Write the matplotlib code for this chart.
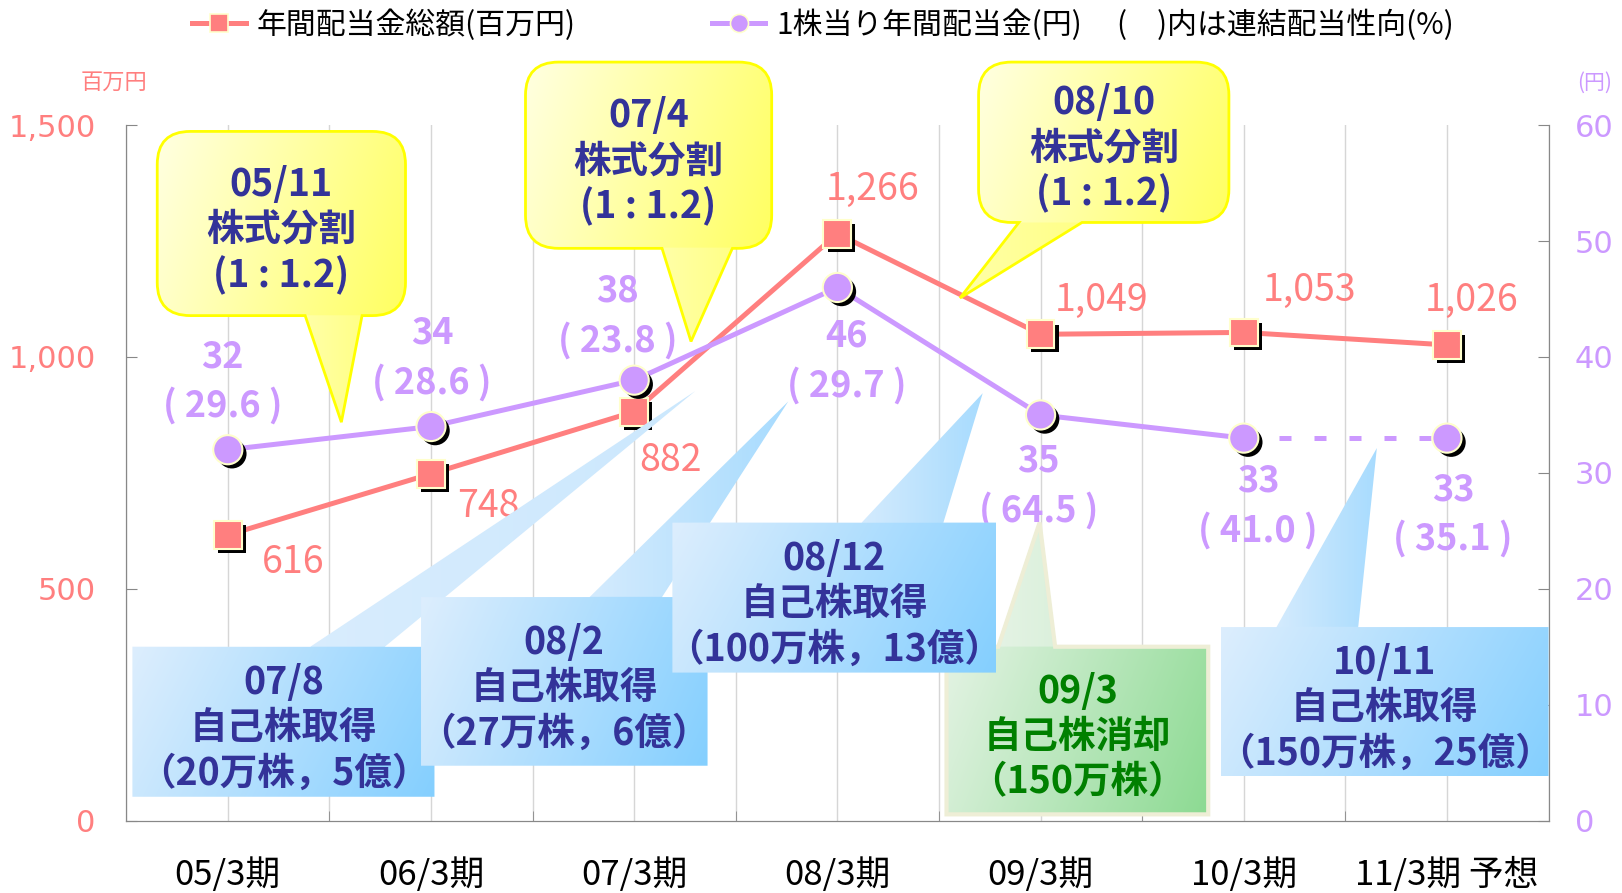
import numpy as np
import matplotlib
matplotlib.use('Agg')
import matplotlib.pyplot as plt
import matplotlib.patheffects as pe
from matplotlib.path import Path
from matplotlib.patches import PathPatch
from matplotlib.lines import Line2D
from matplotlib.ticker import StrMethodFormatter

plt.rcParams['font.family'] = ['Noto Sans CJK JP', 'DejaVu Sans']

# data
periods = ['05/3期', '06/3期', '07/3期', '08/3期', '09/3期', '10/3期', '11/3期 予想']
total_div = [616, 748, 882, 1266, 1049, 1053, 1026]      # 百万円
dps = [32, 34, 38, 46, 35, 33, 33]                        # 円
payout = [29.6, 28.6, 23.8, 29.7, 64.5, 41.0, 35.1]       # %

RED = '#FF7F7F'
PURPLE = '#CC99FF'
NAVY = '#333399'
GREEN = '#008000'
EDGE = '#FFFFCC'

# layout is measured on the 1568x863 reference, S scales it to the real figure
S = 1622 / 1568
red_off = [(63, 27), (55, 32), (35, 47), (34, -43), (59, -33), (64, -41), (24, -43)]
purple_off = [(-5, -66), (1, -66), (-16, -62), (9, 71), (-2, 69), (14, 66), (6, 74)]

# callouts: text, text colour, fill style, box (x0, y0, x1, y1), tail (base x0, base x1, tip x, tip y)
callouts = [
    ('05/11\n株式分割\n(1 : 1.2)', NAVY, 'yellow', (152, 127, 392, 305), (295, 350, 330, 408)),
    ('07/4\n株式分割\n(1 : 1.2)', NAVY, 'yellow', (508, 60, 746, 240), (640, 708, 668, 330)),
    ('08/10\n株式分割\n(1 : 1.2)', NAVY, 'yellow', (946, 60, 1188, 215), (985, 1046, 928, 288)),
    ('09/3\n自己株消却\n（150万株）', GREEN, 'green', (915, 625, 1168, 787), (965, 1020, 1005, 505)),
    ('07/8\n自己株取得\n（20万株，5億）', NAVY, 'blue', (128, 625, 420, 770), (300, 372, 672, 378)),
    ('08/2\n自己株取得\n（27万株，6億）', NAVY, 'blue', (407, 577, 684, 740), (570, 640, 762, 388)),
    ('08/12\n自己株取得\n（100万株，13億）', NAVY, 'blue', (650, 505, 963, 650), (833, 912, 950, 380)),
    ('10/11\n自己株取得\n（150万株，25億）', NAVY, 'blue', (1180, 606, 1497, 750), (1234, 1313, 1331, 433)),
]
styles = {
    'yellow': dict(c0='#FFFFE2', c1='#FFFF60', edge='#FFFF00', lw=2.0, r=32, tail=(0.45, 0.7)),
    'green': dict(c0='#E4F3E4', c1='#8CDA92', edge='#EEEED6', lw=3.0, r=0, tail=(0.0, 0.1)),
    'blue': dict(c0='#DDEEFD', c1='#84CFFF', edge='none', lw=0, r=0, tail=(0.1, 0.6)),
}
tail_tone = {'07/8': (0.05, 0.2)}


def bubble_path(box, tail, r):
    x0, y0, x1, y1 = box
    bx0, bx1, tx, ty = tail
    verts, codes = [], []

    def add(code, *pts):
        for p in pts:
            verts.append(p)
            codes.append(code)

    top = ty < y0
    add(Path.MOVETO, (x0 + r, y0))
    if top:
        add(Path.LINETO, (bx0, y0), (tx, ty), (bx1, y0))
    add(Path.LINETO, (x1 - r, y0))
    add(Path.CURVE3, (x1, y0), (x1, y0 + r))
    add(Path.LINETO, (x1, y1 - r))
    add(Path.CURVE3, (x1, y1), (x1 - r, y1))
    if not top:
        add(Path.LINETO, (bx1, y1), (tx, ty), (bx0, y1))
    add(Path.LINETO, (x0 + r, y1))
    add(Path.CURVE3, (x0, y1), (x0, y1 - r))
    add(Path.LINETO, (x0, y0 + r))
    add(Path.CURVE3, (x0, y0), (x0 + r, y0))
    add(Path.CLOSEPOLY, (x0 + r, y0))
    return Path(verts, codes)


def gradient_shape(ax, box, tail, st, tone, z):
    path = bubble_path(box, tail, st['r'])
    ext = path.get_extents()
    X, Y = np.meshgrid(np.linspace(ext.x0, ext.x1, 300), np.linspace(ext.y0, ext.y1, 300))
    x0, y0, x1, y1 = box
    t = np.clip(0.8 * (X - x0) / (x1 - x0) + 0.2 * (Y - y0) / (y1 - y0), 0, 1)
    # tail gets its own left-to-right shading
    lo, hi = tone
    txa, txb = min(tail[0], tail[2]), max(tail[1], tail[2])
    tt = lo + (hi - lo) * np.clip((X - txa) / (txb - txa), 0, 1)
    outside = (Y < y0) | (Y > y1)
    t = np.where(outside, tt, t)
    c0 = np.array(matplotlib.colors.to_rgb(st['c0']))
    c1 = np.array(matplotlib.colors.to_rgb(st['c1']))
    img = c0 * (1 - t[..., None]) + c1 * t[..., None]
    patch = PathPatch(path, fc='none', ec=st['edge'], lw=st['lw'], zorder=z + 0.5)
    ax.add_patch(patch)
    im = ax.imshow(img, extent=(ext.x0, ext.x1, ext.y1, ext.y0), origin='upper',
                   aspect='auto', interpolation='bilinear', zorder=z)
    im.set_clip_path(patch)


fig = plt.figure(figsize=(16.22, 8.93), dpi=100)
ax = fig.add_axes([122 / 1568, 1 - 793 / 863, (1497 - 122) / 1568, (793 - 121) / 863])
ax2 = ax.twinx()

x = np.arange(len(periods))
shadow = [pe.SimplePatchShadow(offset=(3, -3), shadow_rgbFace='k', alpha=1.0), pe.Normal()]

ax.plot(x, total_div, color=RED, lw=3.6, zorder=3)
ax.plot(x, total_div, ls='none', marker='s', ms=20, mfc=RED, mec=EDGE, mew=1.5,
        path_effects=shadow, zorder=4)
ax2.plot(x[:6], dps[:6], color=PURPLE, lw=3.6, zorder=3)
ax2.plot(x[5:], dps[5:], color=PURPLE, lw=3.6, ls=(0, (2.4, 4.6)), dash_capstyle='butt', zorder=3)
ax2.plot(x, dps, ls='none', marker='o', ms=21, mfc=PURPLE, mec=EDGE, mew=1.5,
         path_effects=shadow, zorder=4)

for i, v in enumerate(total_div):
    dx, dy = red_off[i]
    ax.annotate(f'{v:,}', (x[i], v), xytext=(dx * S, -dy * S), textcoords='offset pixels',
                ha='center', va='center', fontsize=27, color=RED)
for i, (v, p) in enumerate(zip(dps, payout)):
    dx, dy = purple_off[i]
    ax2.annotate(f'{v}\n( {p:.1f} )', (x[i], v), xytext=(dx * S, -dy * S),
                 textcoords='offset pixels', ha='center', va='center', fontsize=26,
                 fontweight='bold', color=PURPLE, linespacing=1.4, zorder=6)

ax.set_xlim(-0.5, len(periods) - 0.5)
ax.set_ylim(0, 1500)
ax2.set_ylim(0, 60)
ax.set_xticks(x, periods)
ax.set_xticks(np.arange(-0.5, len(periods), 1.0), minor=True)
ax.grid(axis='x', which='both', color='#D6D6D6', lw=1.0)
ax.tick_params(axis='x', which='major', length=0, pad=27, labelsize=25)
ax.tick_params(axis='x', which='minor', direction='in', length=7, color='#888888')
ax.set_yticks([0, 500, 1000, 1500])
ax.yaxis.set_major_formatter(StrMethodFormatter('{x:,.0f}'))
ax.tick_params(axis='y', direction='in', length=8, color='#888888', labelcolor=RED,
               labelsize=22, pad=22)
ax2.set_yticks(range(0, 61, 10))
ax2.tick_params(axis='y', direction='in', length=8, color='#888888', labelcolor=PURPLE,
                labelsize=22, pad=19)
for lbl in ax.get_yticklabels() + ax2.get_yticklabels():
    lbl.set_fontfamily('DejaVu Sans')
for a in (ax, ax2):
    a.spines['top'].set_visible(False)
    for s in ('left', 'right', 'bottom'):
        a.spines[s].set_color('#888888')

# callout overlay in reference pixel units
ov = fig.add_axes([0, 0, 1, 1])
ov.set_zorder(5)
ov.patch.set_visible(False)
for k, (txt, col, kind, box, tail) in enumerate(callouts):
    st = styles[kind]
    tone = tail_tone.get(txt.split('\n')[0], st['tail'])
    gradient_shape(ov, box, tail, st, tone, z=2 + k)
    ov.text((box[0] + box[2]) / 2, (box[1] + box[3]) / 2 + 6, txt, ha='center', va='center',
            fontsize=27, fontweight='bold', color=col, linespacing=1.2, zorder=2.8 + k)
ov.set_xlim(0, 1568)
ov.set_ylim(863, 0)
ov.axis('off')

ov.text(110, 80, '百万円', color=RED, fontsize=16, ha='center', va='center')
ov.text(1541, 80, '(円)', color=PURPLE, fontsize=15, ha='center', va='center')

# legend
h1 = Line2D([], [], color=RED, lw=3.6, marker='s', ms=13, mfc=RED, mec=EDGE, mew=1.2)
h2 = Line2D([], [], color=PURPLE, lw=3.6, marker='o', ms=13, mfc=PURPLE, mec=EDGE, mew=1.2)
leg_kw = dict(loc='center left', frameon=False, fontsize=21.5, handlelength=1.8,
              handletextpad=0.35, borderpad=0, borderaxespad=0, bbox_transform=fig.transFigure)
leg1 = fig.legend([h1], ['年間配当金総額(百万円)'], bbox_to_anchor=(186 / 1568, 1 - 24 / 863), **leg_kw)
leg2 = fig.legend([h2], ['1株当り年間配当金(円)'], bbox_to_anchor=(688 / 1568, 1 - 24 / 863), **leg_kw)
fig.text(1080 / 1568, 1 - 24 / 863, '(　)内は連結配当性向(%)', fontsize=21.5, ha='left', va='center')

fig.savefig('out.png', dpi=100)
